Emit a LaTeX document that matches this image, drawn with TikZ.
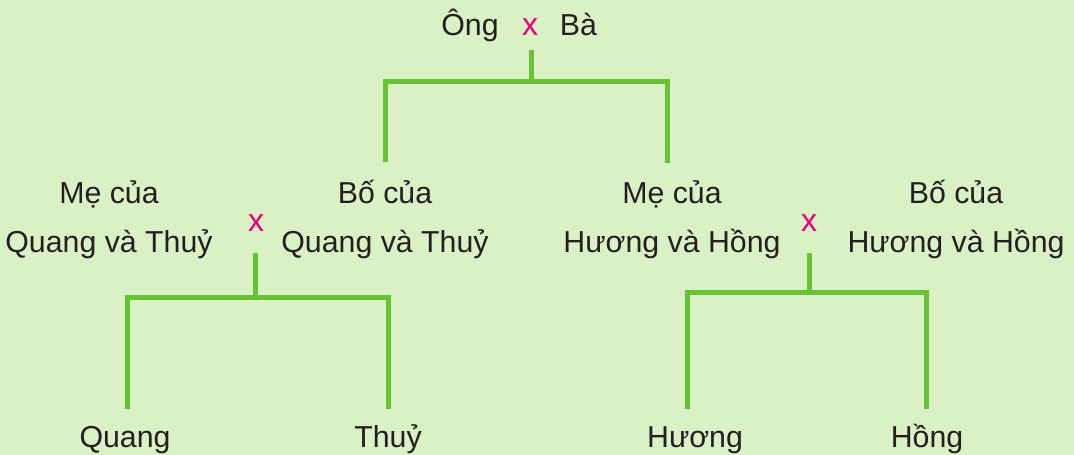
\documentclass[tikz,border=0pt]{standalone}
\usepackage{fontspec}
\setmainfont{Liberation Sans}
\definecolor{bgc}{RGB}{218,240,197}
\definecolor{lnc}{RGB}{103,194,52}
\definecolor{xc}{RGB}{230,0,126}
\definecolor{txc}{RGB}{35,31,32}
\tikzset{
  lbl/.style={anchor=base,inner sep=0pt,text=txc,font=\fontsize{30.3}{36}\selectfont},
  cross/.style={anchor=base,inner sep=0pt,text=xc,font=\fontsize{32}{36}\selectfont},
  branch/.style={draw=lnc,line width=5pt,line join=miter},
}
\begin{document}
\begin{tikzpicture}[x=1pt,y=-1pt]
\fill[bgc] (0,0) rectangle (1074,455);
\useasboundingbox (0,0) rectangle (1074,455);
% top
\node[lbl] (ong) at (470,35) {Ông};
\node[cross] (xtop) at (530,35) {x};
\node[lbl] (ba) at (578.5,35) {Bà};
% middle left
\node[lbl] (me1a) at (109,203) {Mẹ của};
\node[lbl] (me1b) at (109,252) {Quang và Thuỷ};
\node[cross] (x1) at (256,231) {x};
\node[lbl] (bo1a) at (385,203) {Bố của};
\node[lbl] (bo1b) at (385,252) {Quang và Thuỷ};
% middle right
\node[lbl] (me2a) at (672,203) {Mẹ của};
\node[lbl] (me2b) at (672,252) {Hương và Hồng};
\node[cross] (x2) at (809,231) {x};
\node[lbl] (bo2a) at (956,203) {Bố của};
\node[lbl] (bo2b) at (956,252) {Hương và Hồng};
% bottom
\node[lbl] (quang) at (125,447) {Quang};
\node[lbl] (thuy) at (388,447) {Thuỷ};
\node[lbl] (huong) at (695,447) {Hương};
\node[lbl] (hong) at (927,447) {Hồng};
% connector coordinates
\coordinate (t0) at (531,50);
\coordinate (h0) at (531,81);
\coordinate (l0) at (385,162);
\coordinate (r0) at (667,163);
\coordinate (t1) at (255,253);
\coordinate (h1) at (255,297);
\coordinate (l1) at (127,409);
\coordinate (r1) at (388,409);
\coordinate (t2) at (809,253);
\coordinate (h2) at (809,292.5);
\coordinate (l2) at (687,409);
\coordinate (r2) at (926,409);
% connectors
\draw[branch] (t0) -- (h0);
\draw[branch] (l0) |- (h0) -| (r0);
\draw[branch] (t1) -- (h1);
\draw[branch] (l1) |- (h1) -| (r1);
\draw[branch] (t2) -- (h2);
\draw[branch] (l2) |- (h2) -| (r2);
\end{tikzpicture}
\end{document}
